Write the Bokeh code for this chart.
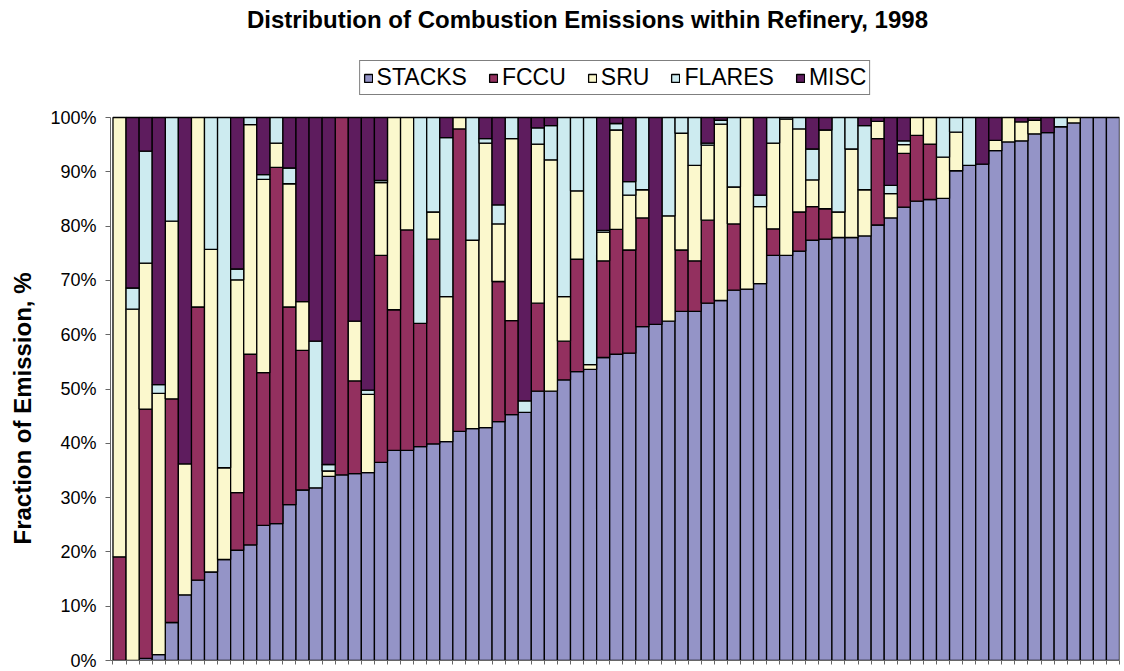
import math
from bokeh.plotting import figure
from bokeh.layouts import row
from bokeh.models import (ColumnDataSource, Range1d, FixedTicker, PrintfTickFormatter,
                          Legend, LegendItem, Label, CustomJSTickFormatter)
from bokeh.embed import file_html
from bokeh.resources import INLINE

title_text = "Distribution of Combustion Emissions within Refinery, 1998"
y_label_text = "Fraction of Emission, %"
series = ["STACKS", "FCCU", "SRU", "FLARES", "MISC"]

stacks = [0, 0, 0.4, 1.1, 7.0, 12.1, 14.8, 16.3, 18.6, 20.3, 21.3, 24.9, 25.2, 28.7, 31.4, 31.8,
          33.9, 34.2, 34.4, 34.6, 36.5, 38.7, 38.7, 39.4, 39.9, 40.3, 42.2, 42.7, 42.9, 44.0, 45.3,
          45.7, 49.6, 49.6, 51.7, 53.2, 53.6, 55.8, 56.4, 56.6, 61.5, 61.9, 62.5, 64.3, 64.3, 65.8,
          66.3, 68.2, 68.4, 69.4, 74.6, 74.6, 75.4, 77.4, 77.6, 77.9, 77.9, 78.2, 80.2, 81.5, 83.5,
          84.6, 84.9, 85.1, 90.2, 91.2, 91.4, 93.9, 95.5, 95.7, 97.0, 97.2, 98.3, 99.0, 100, 100, 100]
fccu = [19.1, 0, 45.9, 0, 41.2, 0, 50.3, 0, 0, 10.6, 35.1, 28.1, 65.6, 36.4, 25.7, 0,
        0, 65.8, 17.1, 0, 38.1, 25.9, 40.6, 22.7, 37.7, 0, 55.7, 0, 0, 25.8, 17.3,
        0, 16.2, 0, 7.1, 20.7, 0, 17.8, 23.0, 19.0, 20.0, 0, 0, 11.3, 9.3, 15.3,
        0, 12.2, 0, 0, 4.9, 0, 7.2, 6.2, 5.6, 0, 0, 0, 15.9, 0, 9.9,
        12.1, 10.2, 0, 0, 0, 0, 0, 0, 0, 0, 0, 0, 0, 0, 0, 0]
sru = [80.9, 64.7, 26.9, 48.1, 32.7, 24.1, 34.9, 59.4, 16.9, 39.2, 42.3, 35.6, 4.5, 22.7, 9.0, 0,
       1.0, 0, 11.0, 14.4, 13.4, 35.4, 20.7, 0, 5.0, 26.7, 2.1, 34.7, 52.4, 10.6, 33.5,
       0, 29.3, 42.6, 8.2, 12.6, 0.9, 5.3, 18.3, 10.1, 5.2, 0, 19.4, 21.5, 17.6, 13.8,
       32.5, 6.8, 31.6, 14.2, 15.8, 25.1, 15.3, 4.9, 14.5, 4.7, 16.3, 8.5, 3.2, 4.5, 1.6,
       3.3, 4.9, 7.6, 7.1, 0, 0, 1.9, 4.5, 3.5, 2.5, 0, 0, 1.0, 0, 0, 0]
flares = [0, 3.9, 20.6, 1.6, 19.1, 0, 0, 24.3, 64.5, 2.0, 1.3, 0.9, 4.7, 2.9, 0, 27.0,
          1.2, 0, 0, 0.8, 0.4, 0, 0, 37.9, 17.4, 29.3, 0, 22.6, 0.8, 3.5, 3.9,
          2.1, 3.0, 6.3, 33.0, 13.5, 45.5, 0.3, 1.2, 2.5, 13.3, 0, 18.1, 2.9, 8.8, 0.4,
          0.7, 12.8, 0, 2.1, 4.7, 0.3, 2.1, 5.7, 0, 17.4, 5.8, 11.8, 0, 1.5, 0.7,
          0, 0, 7.3, 2.7, 8.8, 0, 0, 0, 0, 0, 0, 1.7, 0, 0, 0, 0]
misc = [0, 31.4, 6.2, 49.2, 0, 63.8, 0, 0, 0, 27.9, 0, 10.5, 0, 9.3, 33.9, 41.2,
        63.9, 0, 37.5, 50.2, 11.6, 0, 0, 0, 0, 3.7, 0, 0, 3.9, 16.1, 0,
        52.2, 1.9, 1.5, 0, 0, 0, 20.8, 1.1, 11.8, 0, 38.1, 0, 0, 0, 4.7,
        0.5, 0, 0, 14.3, 0, 0, 0, 5.8, 2.3, 0, 0, 1.5, 0.7, 12.5, 4.3,
        0, 0, 0, 0, 0, 8.6, 4.2, 0, 0.8, 0.5, 2.8, 0, 0, 0, 0, 0]

colors = ["#9494C7", "#93305F", "#FBF8CD", "#CDEBF0", "#5E1C5E"]
y_ticks = [0, 10, 20, 30, 40, 50, 60, 70, 80, 90, 100]

n = len(stacks)
xs = list(range(1, n + 1))

LEFT_W = 45

# narrow strip holding the rotated y-axis title
lab = figure(width=LEFT_W, height=671, output_backend="svg", toolbar_location=None,
             x_range=Range1d(0, LEFT_W), y_range=Range1d(0, 671),
             x_axis_location=None, y_axis_location=None, min_border=0)
lab.xgrid.visible = False
lab.ygrid.visible = False
lab.outline_line_color = None
lab.add_layout(Label(x=22, y=671 - 419, x_units="screen", y_units="screen", text=y_label_text,
                     angle=math.pi / 2, text_align="center", text_baseline="middle",
                     text_font="Liberation Sans", text_font_size="24px",
                     text_font_style="bold", text_color="black"))

# main chart: frame spans the full height so the title and legend sit inside it;
# 100% lands 117px below the top, 0% at 660px
p = figure(width=1124 - LEFT_W, height=671, output_backend="svg", toolbar_location=None,
           x_range=Range1d(0.31, 77.5), y_range=Range1d(0, 121.55),
           min_border_left=110 - LEFT_W, min_border_right=5, min_border_top=0,
           min_border_bottom=11)
p.xgrid.visible = False
p.ygrid.visible = False
p.outline_line_color = None
p.background_fill_color = "white"

values = [stacks, fccu, sru, flares, misc]
base = [0.0] * n
renderers = []
for name, vals, col in zip(series, values, colors):
    xx, bb, tt = [], [], []
    for i in range(n):
        if vals[i] > 0:
            xx.append(xs[i])
            bb.append(base[i])
            tt.append(base[i] + vals[i])
        base[i] += vals[i]
    src = ColumnDataSource(dict(x=xx, bottom=bb, top=tt))
    r = p.vbar(x="x", bottom="bottom", top="top", width=1.0, source=src,
               fill_color=col, line_color="black", line_width=1.3)
    renderers.append(r)

# Y axis
p.yaxis.bounds = (0, 100)
p.yaxis.ticker = FixedTicker(ticks=y_ticks)
p.yaxis.formatter = PrintfTickFormatter(format="%d%%")
p.yaxis.minor_tick_line_color = None
p.yaxis.major_tick_in = 0
p.yaxis.major_tick_out = 5
p.yaxis.axis_line_color = "#666666"
p.yaxis.major_tick_line_color = "#666666"
p.yaxis.major_label_text_font = "Liberation Sans"
p.yaxis.major_label_text_font_size = "18px"
p.yaxis.major_label_text_color = "black"
p.yaxis.major_label_standoff = 9

# X axis (category ticks only, no labels)
p.xaxis.ticker = FixedTicker(ticks=[i + 0.5 for i in range(0, n + 1)])
p.xaxis.formatter = CustomJSTickFormatter(code="return ''")
p.xaxis.minor_tick_line_color = None
p.xaxis.major_tick_in = 0
p.xaxis.major_tick_out = 4
p.xaxis.axis_line_color = "#666666"
p.xaxis.major_tick_line_color = "#666666"

legend = Legend(items=[LegendItem(label=s, renderers=[r]) for s, r in zip(series, renderers)],
                orientation="horizontal", location="top_center")
legend.label_text_font = "Liberation Sans"
legend.label_text_font_size = "23px"
legend.label_text_color = "black"
legend.glyph_width = 10
legend.glyph_height = 10
legend.label_standoff = 4
legend.spacing = 21
legend.padding = 3
legend.margin = 60
legend.border_line_color = "black"
legend.border_line_width = 1
legend.background_fill_alpha = 1
p.add_layout(legend)

title = Label(x=587 - 110, y=641, x_units="screen", y_units="screen", text=title_text,
              text_align="center", text_baseline="middle", text_font="Liberation Sans",
              text_font_size="24px", text_font_style="bold", text_color="black")
p.add_layout(title)

layout = row(lab, p, spacing=0)
open("out.html", "w").write(file_html(layout, INLINE))
